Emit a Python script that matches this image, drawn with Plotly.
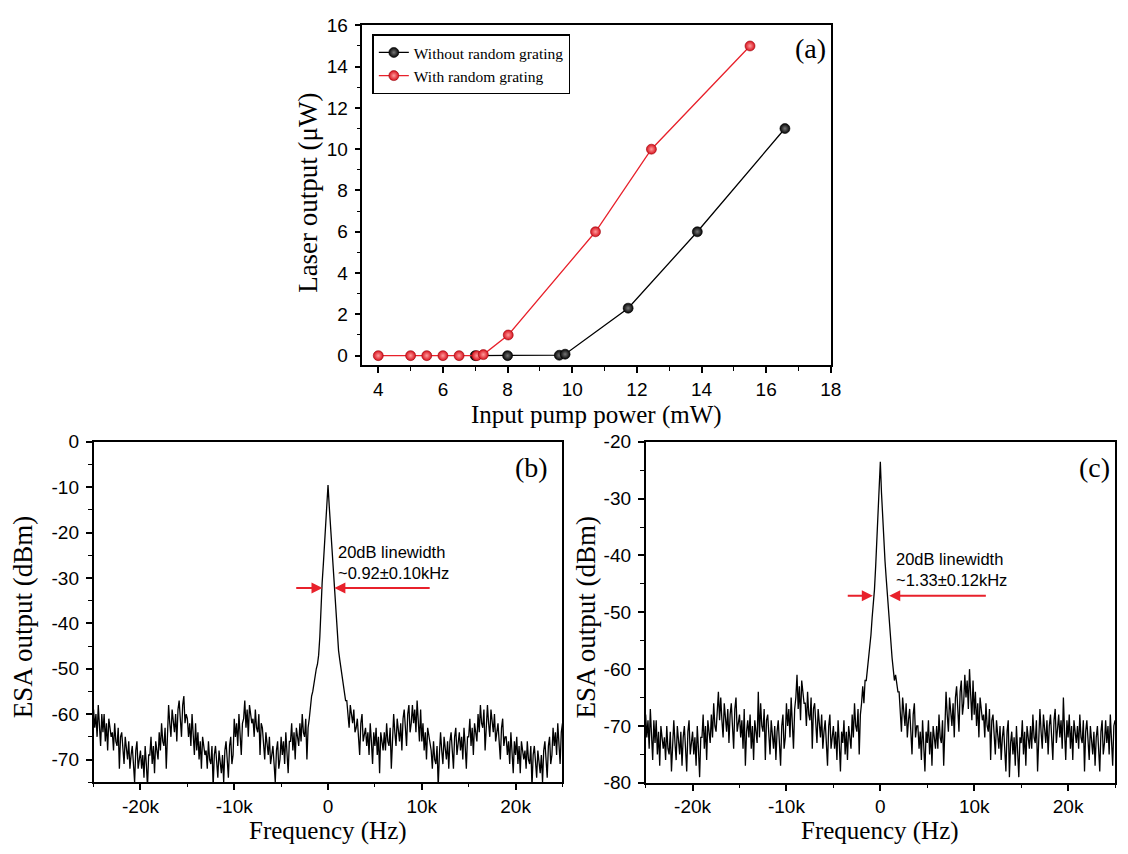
import numpy as np
import plotly.graph_objects as go

# ---------------- (a) laser output versus pump power ----------------
PUMP_NO_GRATING = [7.0, 8.0, 9.6, 9.78, 11.73, 13.87, 16.58]
OUT_NO_GRATING = [0.0, 0.0, 0.02, 0.07, 2.3, 6.0, 11.0]
PUMP_GRATING = [4.0, 5.0, 5.5, 6.0, 6.5, 7.05, 7.25, 8.02, 10.72, 12.45, 15.5]
OUT_GRATING = [0.0, 0.0, 0.0, 0.0, 0.0, 0.0, 0.05, 1.0, 6.0, 10.0, 15.0]

A_XTICKS = [4, 6, 8, 10, 12, 14, 16, 18]
A_YTICKS = [0, 2, 4, 6, 8, 10, 12, 14, 16]

# ---------------- (b), (c) ESA spectra, 125 Hz bins from -25 kHz to +25 kHz ----------------
SPEC_B = [
    -59, -63, -60, -65, -58, -62, -67, -60,   # -25k
    -64, -60, -66, -62, -68, -61, -63, -65,   # -24k
    -64, -68, -62, -66, -67, -63, -72, -65,   # -23k
    -64, -68, -71, -65, -67, -70, -66, -72,   # -22k
    -69, -67, -71, -75, -68, -66, -72, -70,   # -21k
    -68, -72, -69, -74, -67, -71, -76, -69,   # -20k
    -69, -65, -71, -67, -73, -66, -68, -70,   # -19k
    -64, -68, -62, -66, -67, -63, -72, -65,   # -18k
    -58, -62, -65, -59, -61, -64, -60, -66,   # -17k
    -59, -57, -61, -65, -58, -56, -62, -60,   # -16k
    -61, -65, -62, -67, -60, -64, -69, -62,   # -15k
    -68, -64, -70, -66, -72, -65, -67, -69,   # -14k
    -68, -72, -66, -70, -71, -67, -76, -69,   # -13k
    -67, -71, -74, -68, -70, -73, -69, -75,   # -12k
    -68, -66, -70, -74, -67, -65, -71, -69,   # -11k
    -61, -65, -62, -67, -60, -64, -69, -62,   # -10k
    -61, -57, -63, -59, -65, -58, -60, -62,   # -9k
    -61, -65, -59, -63, -64, -60, -69, -62,   # -8k
    -63, -67, -70, -64, -66, -69, -65, -71,   # -7k
    -69, -67, -71, -75, -68, -66, -72, -70,   # -6k
    -65, -69, -66, -71, -64, -68, -73, -66,   # -5k
    -66, -62, -68, -64, -70, -63, -65, -67,   # -4k
    -62, -66, -60, -64, -65, -61, -70, -63,   # -3k
    -61, -58, -56, -55, -53, -52, -50, -49,   # -2k
    -47, -43, -36, -31, -27, -22, -17, -13,   # -1k
    -9.5, -14, -18, -23, -28, -32, -36, -39,  # 0
    -43, -46, -48, -50, -52, -54, -55, -57,   # 1k
    -57, -61, -63, -58, -60, -62, -59, -64,   # 2k
    -63, -61, -65, -69, -62, -60, -66, -64,   # 3k
    -63, -67, -64, -69, -62, -66, -71, -64,   # 4k
    -67, -63, -69, -65, -73, -64, -66, -68,   # 5k
    -64, -68, -62, -66, -67, -63, -72, -65,   # 6k
    -60, -64, -67, -61, -63, -66, -62, -68,   # 7k
    -61, -59, -63, -67, -60, -58, -64, -62,   # 8k
    -58, -62, -59, -64, -57, -61, -66, -59,   # 9k
    -66, -62, -68, -64, -70, -63, -65, -67,   # 10k
    -68, -72, -66, -70, -71, -67, -76, -69,   # 11k
    -64, -68, -71, -65, -67, -70, -66, -72,   # 12k
    -66, -64, -68, -72, -65, -63, -69, -67,   # 13k
    -64, -68, -65, -70, -63, -67, -72, -65,   # 14k
    -65, -61, -67, -63, -69, -62, -64, -66,   # 15k
    -60, -64, -58, -62, -63, -59, -68, -61,   # 16k
    -58, -62, -65, -59, -61, -64, -60, -66,   # 17k
    -64, -62, -66, -70, -63, -61, -67, -65,   # 18k
    -65, -69, -66, -71, -64, -68, -73, -66,   # 19k
    -69, -65, -71, -67, -73, -66, -68, -70,   # 20k
    -68, -72, -66, -70, -71, -67, -76, -69,   # 21k
    -67, -71, -74, -68, -70, -73, -69, -75,   # 22k
    -68, -66, -70, -74, -67, -65, -71, -69,   # 23k
    -63, -67, -64, -69, -62, -66, -71, -64,   # 24k
    -62,                                      # 25k
]

SPEC_C = [
    -68, -72, -69, -74, -67, -71, -76, -69,   # -25k
    -73, -69, -75, -71, -77, -70, -72, -74,   # -24k
    -72, -76, -70, -74, -75, -71, -78, -73,   # -23k
    -69, -73, -76, -70, -72, -75, -71, -77,   # -22k
    -72, -70, -74, -78, -71, -69, -75, -73,   # -21k
    -71, -75, -72, -77, -70, -74, -79, -72,   # -20k
    -72, -68, -74, -70, -76, -69, -71, -73,   # -19k
    -68, -72, -66, -70, -71, -67, -64, -69,   # -18k
    -65, -69, -72, -66, -68, -71, -67, -73,   # -17k
    -68, -66, -70, -74, -67, -65, -71, -69,   # -16k
    -68, -72, -69, -74, -67, -77, -71, -69,   # -15k
    -72, -68, -74, -70, -76, -69, -71, -73,   # -14k
    -64, -72, -66, -70, -71, -67, -76, -69,   # -13k
    -68, -72, -75, -69, -71, -74, -70, -76,   # -12k
    -71, -69, -73, -77, -70, -68, -74, -72,   # -11k
    -66, -70, -67, -72, -65, -69, -74, -67,   # -10k
    -65, -61, -67, -63, -69, -62, -64, -66,   # -9k
    -66, -70, -64, -68, -69, -65, -74, -67,   # -8k
    -66, -70, -73, -67, -69, -72, -68, -74,   # -7k
    -71, -69, -73, -77, -70, -68, -74, -72,   # -6k
    -70, -74, -71, -76, -69, -73, -78, -71,   # -5k
    -73, -69, -75, -71, -76, -70, -72, -74,   # -4k
    -68, -72, -66, -70, -71, -67, -75, -68,   # -3k
    -66, -63, -66, -62, -62, -60, -59, -57,   # -2k
    -54, -51, -49, -46, -42, -38, -33, -28,   # -1k
    -23.5, -29, -34, -38, -41, -44, -47, -50, # 0
    -53, -55, -58, -60, -62, -61, -63, -64,   # 1k
    -64, -68, -71, -65, -67, -70, -66, -72,   # 2k
    -69, -67, -71, -75, -68, -66, -72, -70,   # 3k
    -70, -74, -71, -76, -69, -73, -78, -71,   # 4k
    -73, -69, -75, -71, -77, -70, -72, -74,   # 5k
    -70, -74, -68, -72, -73, -69, -77, -70,   # 6k
    -64, -68, -71, -65, -67, -70, -66, -72,   # 7k
    -65, -63, -67, -71, -64, -62, -68, -66,   # 8k
    -61, -65, -62, -67, -60, -64, -69, -62,   # 9k
    -68, -64, -70, -66, -72, -65, -67, -69,   # 10k
    -68, -72, -66, -70, -71, -67, -76, -69,   # 11k
    -68, -72, -75, -69, -71, -74, -70, -76,   # 12k
    -72, -70, -74, -78, -71, -69, -79, -73,   # 13k
    -71, -75, -72, -77, -70, -74, -79, -72,   # 14k
    -73, -69, -75, -71, -77, -70, -72, -74,   # 15k
    -70, -74, -68, -72, -73, -69, -78, -71,   # 16k
    -67, -71, -74, -68, -70, -73, -69, -75,   # 17k
    -70, -68, -72, -76, -69, -67, -73, -71,   # 18k
    -68, -72, -69, -74, -65, -71, -76, -69,   # 19k
    -72, -68, -74, -70, -76, -69, -71, -73,   # 20k
    -70, -74, -68, -72, -73, -69, -78, -71,   # 21k
    -69, -73, -76, -70, -72, -75, -71, -77,   # 22k
    -72, -70, -74, -78, -71, -69, -75, -73,   # 23k
    -69, -73, -70, -75, -68, -72, -77, -70,   # 24k
    -69,                                      # 25k
]

F_START, F_STOP = -25000, 25000
F_TICKS = [-20000, -10000, 0, 10000, 20000]
F_LABELS = ["-20k", "-10k", "0", "10k", "20k"]
B_YTICKS = [0, -10, -20, -30, -40, -50, -60, -70]
C_YTICKS = [-20, -30, -40, -50, -60, -70, -80]

# 20 dB linewidth markers (arrow tips/tails in Hz, level in dBm)
B_ARROW = dict(level=-32.2, left_tail=-3550, left_tip=-590, right_tip=680, right_tail=11000)
C_ARROW = dict(level=-47.1, left_tail=-3630, left_tip=-800, right_tip=950, right_tail=11400)
B_NOTE = "20dB linewidth<br>~0.92±0.10kHz"
C_NOTE = "20dB linewidth<br>~1.33±0.12kHz"

RED = "#E8212B"
SERIF = "Liberation Serif"
SANS = "Liberation Sans"

freq_b = np.linspace(F_START, F_STOP, len(SPEC_B))
freq_c = np.linspace(F_START, F_STOP, len(SPEC_C))

fig = go.Figure()

fig.add_trace(go.Scatter(
    x=PUMP_NO_GRATING, y=OUT_NO_GRATING, mode="lines+markers",
    name="Without random grating",
    line=dict(color="black", width=1.3),
    marker=dict(size=10, color="#030303", line=dict(color="black", width=0.6),
                gradient=dict(type="radial", color="#777777")),
    xaxis="x", yaxis="y",
))
fig.add_trace(go.Scatter(
    x=PUMP_GRATING, y=OUT_GRATING, mode="lines+markers",
    name="With random grating",
    line=dict(color=RED, width=1.3),
    marker=dict(size=10, color="#D8101C", line=dict(color="#9a0a10", width=0.6),
                gradient=dict(type="radial", color="#ff9c9c")),
    xaxis="x", yaxis="y",
))
fig.add_trace(go.Scatter(
    x=freq_b, y=SPEC_B, mode="lines", showlegend=False,
    line=dict(color="black", width=1.3), xaxis="x2", yaxis="y2",
))
fig.add_trace(go.Scatter(
    x=freq_c, y=SPEC_C, mode="lines", showlegend=False,
    line=dict(color="black", width=1.3), xaxis="x3", yaxis="y3",
))


def axis_style(**kw):
    base = dict(
        showline=True, linecolor="black", linewidth=1.5, mirror=True,
        ticks="outside", ticklen=6, tickwidth=1.5, tickcolor="black",
        showgrid=False, zeroline=False,
        tickfont=dict(family=SANS, size=19, color="black"),
        ticklabelstandoff=0,
    )
    base.update(kw)
    return base


def minor(step):
    return dict(dtick=step, tick0=0, ticks="outside", ticklen=3.5, tickwidth=1.2, tickcolor="black")


W, H = 1128, 854


def px_x(v):
    return v / W


def px_y(v):
    return 1 - v / H


layout = dict(
    width=W, height=H,
    margin=dict(l=0, r=0, t=0, b=0),
    paper_bgcolor="white", plot_bgcolor="white",
    showlegend=True,
    legend=dict(
        x=px_x(376), y=px_y(25), xanchor="left", yanchor="top",
        bordercolor="black", borderwidth=1.5, bgcolor="white",
        font=dict(family=SERIF, size=15.5, color="black"),
        tracegroupgap=0,
    ),
    xaxis=axis_style(
        domain=[px_x(366), px_x(839)], anchor="y", range=[3.51, 18],
        tickvals=A_XTICKS, ticktext=[str(v) for v in A_XTICKS], minor=minor(1),
    ),
    yaxis=axis_style(
        domain=[px_y(364.3), px_y(15.7)], anchor="x", range=[-0.47, 16],
        tickvals=A_YTICKS, ticktext=[str(v) for v in A_YTICKS], minor=minor(1),
        ticklabelstandoff=3,
    ),
    xaxis2=axis_style(
        domain=[px_x(94.5), px_x(568)], anchor="y2", range=[F_START, F_STOP],
        tickvals=F_TICKS, ticktext=F_LABELS, minor=minor(5000),
    ),
    yaxis2=axis_style(
        domain=[px_y(791.7), px_y(442.7)], anchor="x2", range=[-75, 0],
        tickvals=B_YTICKS, ticktext=[str(v) for v in B_YTICKS], minor=minor(5),
        ticklabelstandoff=3,
    ),
    xaxis3=axis_style(
        domain=[px_x(652), px_x(1126)], anchor="y3", range=[F_START, F_STOP],
        tickvals=F_TICKS, ticktext=F_LABELS, minor=minor(5000),
    ),
    yaxis3=axis_style(
        domain=[px_y(792.3), px_y(442.7)], anchor="x3", range=[-80, -20],
        tickvals=C_YTICKS, ticktext=[str(v) for v in C_YTICKS], minor=minor(5),
        ticklabelstandoff=3,
    ),
)
fig.update_layout(**layout)

ann = []


def paper_text(text, x, y, font, angle=0, yanchor="middle"):
    ann.append(dict(text=text, x=px_x(x), y=px_y(y), xref="paper", yref="paper",
                    xanchor="center", yanchor=yanchor, showarrow=False, borderpad=0,
                    textangle=angle, font=font))


# axis titles
xtitle_font = dict(family=SERIF, size=25, color="black")
ytitle_font = dict(family=SERIF, size=27, color="black")
paper_text("Input pump power (mW)", 602.5, 400, xtitle_font, yanchor="top")
paper_text("Laser output (μW)", 311.5, 187, ytitle_font, angle=-90)
paper_text("Frequency (Hz)", 331, 826.5, xtitle_font, yanchor="top")
paper_text("ESA output (dBm)", 23.3, 622.5, ytitle_font, angle=-90)
paper_text("Frequency (Hz)", 889, 826.5, xtitle_font, yanchor="top")
paper_text("ESA output (dBm)", 592, 622.5, ytitle_font, angle=-90)

# panel tags
tag_font = dict(family=SERIF, size=28, color="black")
paper_text("(a)", 818, 39, tag_font)
paper_text("(b)", 537, 469, tag_font)
paper_text("(c)", 1105, 469, tag_font)


def linewidth_marks(axx, axy, spec, note, note_x, note_y):
    lvl = spec["level"]
    for tip, tail in ((spec["left_tip"], spec["left_tail"]), (spec["right_tip"], spec["right_tail"])):
        ann.append(dict(x=tip, y=lvl, ax=tail, ay=lvl, xref=axx, yref=axy, axref=axx, ayref=axy,
                        text="", showarrow=True, arrowhead=2, arrowsize=1.1, arrowwidth=2,
                        arrowcolor=RED, standoff=0, startstandoff=0))
    ann.append(dict(x=note_x, y=note_y, xref=axx, yref=axy, text=note, showarrow=False,
                    xanchor="left", yanchor="middle", align="left", borderpad=0,
                    font=dict(family=SANS, size=16.5, color="black")))


linewidth_marks("x2", "y2", B_ARROW, B_NOTE, 1000, -26.6)
linewidth_marks("x3", "y3", C_ARROW, C_NOTE, 1530, -42.5)

fig.update_layout(annotations=ann)
fig.write_html("out.html")
